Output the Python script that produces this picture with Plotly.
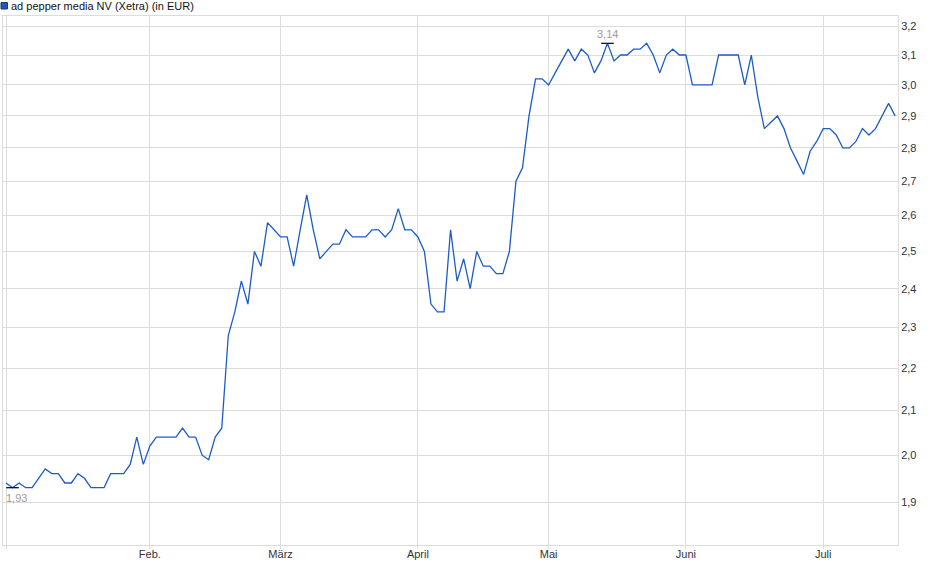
import math
import plotly.graph_objects as go

title_text = "ad pepper media NV (Xetra) (in EUR)"

# closing prices, one per trading day (EUR)
prices = [
    1.94, 1.93, 1.94, 1.93, 1.93, 1.95, 1.97, 1.96, 1.96, 1.94,
    1.94, 1.96, 1.95, 1.93, 1.93, 1.93, 1.96, 1.96, 1.96, 1.98,
    2.04, 1.98, 2.02, 2.04, 2.04, 2.04, 2.04, 2.06, 2.04, 2.04,
    2.00, 1.99, 2.04, 2.06, 2.28, 2.34, 2.42, 2.36, 2.50, 2.46,
    2.58, 2.56, 2.54, 2.54, 2.46, 2.56, 2.66, 2.56, 2.48, 2.50,
    2.52, 2.52, 2.56, 2.54, 2.54, 2.54, 2.56, 2.56, 2.54, 2.56,
    2.62, 2.56, 2.56, 2.54, 2.50, 2.36, 2.34, 2.34, 2.56, 2.42,
    2.48, 2.40, 2.50, 2.46, 2.46, 2.44, 2.44, 2.50, 2.70, 2.74,
    2.90, 3.02, 3.02, 3.00, 3.04, 3.08, 3.12, 3.08, 3.12, 3.10,
    3.04, 3.08, 3.14, 3.08, 3.10, 3.10, 3.12, 3.12, 3.14, 3.10,
    3.04, 3.10, 3.12, 3.10, 3.10, 3.00, 3.00, 3.00, 3.00, 3.10,
    3.10, 3.10, 3.10, 3.00, 3.10, 2.96, 2.86, 2.88, 2.90, 2.86,
    2.80, 2.76, 2.72, 2.79, 2.82, 2.86, 2.86, 2.84, 2.80, 2.80,
    2.82, 2.86, 2.84, 2.86, 2.90, 2.94, 2.90,
]
days = list(range(len(prices)))

# month labels and the trading-day index where each month begins
month_labels = ["", "Feb.", "März", "April", "Mai", "Juni", "Juli"]
month_start_index = [0, 22, 42, 63, 83, 104, 125]

y_ticks = [1.9, 2.0, 2.1, 2.2, 2.3, 2.4, 2.5, 2.6, 2.7, 2.8, 2.9, 3.0, 3.1, 3.2]
y_tick_text = [f"{v:.1f}".replace(".", ",") for v in y_ticks]

LINE = "#1c5cc7"
GRID = "#dcdcdc"
FONT = "Liberation Sans, Arial, sans-serif"

i_min = prices.index(min(prices))
i_max = prices.index(max(prices))

fig = go.Figure()
fig.add_trace(go.Scatter(
    x=days, y=prices, mode="lines",
    line=dict(color=LINE, width=1.3),
    showlegend=False, hoverinfo="skip",
))
fig.add_trace(go.Scatter(
    x=[days[i_min], days[i_max]], y=[prices[i_min], prices[i_max]],
    mode="markers",
    marker=dict(symbol="line-ew", size=9, color="black",
                line=dict(color="black", width=1.2)),
    showlegend=False, hoverinfo="skip",
))

fig.add_annotation(x=days[i_max], y=math.log10(prices[i_max]),
                   text=f"{prices[i_max]:.2f}".replace(".", ","),
                   showarrow=False, yshift=9,
                   font=dict(family=FONT, size=11, color="#a09a94"))
fig.add_annotation(x=days[i_min], y=math.log10(prices[i_min]),
                   text=f"{prices[i_min]:.2f}".replace(".", ","),
                   showarrow=False, yshift=-10, xshift=4,
                   font=dict(family=FONT, size=11, color="#a09a94"))

# legend-like header
fig.add_shape(type="rect", xref="paper", yref="paper",
              x0=-2 / 895.3, x1=4.5 / 895.3,
              y0=1 + 7 / 529, y1=1 + 13.5 / 529,
              fillcolor="#1d56b8", line=dict(color="#203a70", width=1))
fig.add_annotation(xref="paper", yref="paper", x=6.5 / 895.3, y=1 + 10 / 529,
                   xanchor="left", yanchor="middle", showarrow=False,
                   text=title_text,
                   font=dict(family=FONT, size=11, color="#111111"))

fig.update_layout(
    width=940, height=579,
    margin=dict(l=3, r=42, t=16, b=34),
    paper_bgcolor="white", plot_bgcolor="white",
    font=dict(family=FONT, size=11, color="#333333"),
    xaxis=dict(
        range=[-0.46, 136.44],
        tickmode="array", tickvals=month_start_index, ticktext=month_labels,
        showgrid=True, gridcolor=GRID, gridwidth=1,
        ticks="outside", ticklen=3, tickcolor=GRID,
        ticklabelstandoff=-4,
        showline=True, linecolor=GRID, mirror=True,
        zeroline=False,
        tickfont=dict(family=FONT, size=11, color="#333333"),
    ),
    yaxis=dict(
        type="log", side="right",
        range=[0.25831, 0.50992],
        tickmode="array", tickvals=y_ticks, ticktext=y_tick_text,
        showgrid=True, gridcolor=GRID, gridwidth=1,
        ticks="", showline=True, linecolor=GRID, mirror=True,
        zeroline=False,
        tickfont=dict(family=FONT, size=11, color="#333333"),
    ),
)

fig.write_html("out.html",
               config={"displayModeBar": False},
               post_script="document.body.style.margin='0px';"
                           "document.body.style.overflow='hidden';")
